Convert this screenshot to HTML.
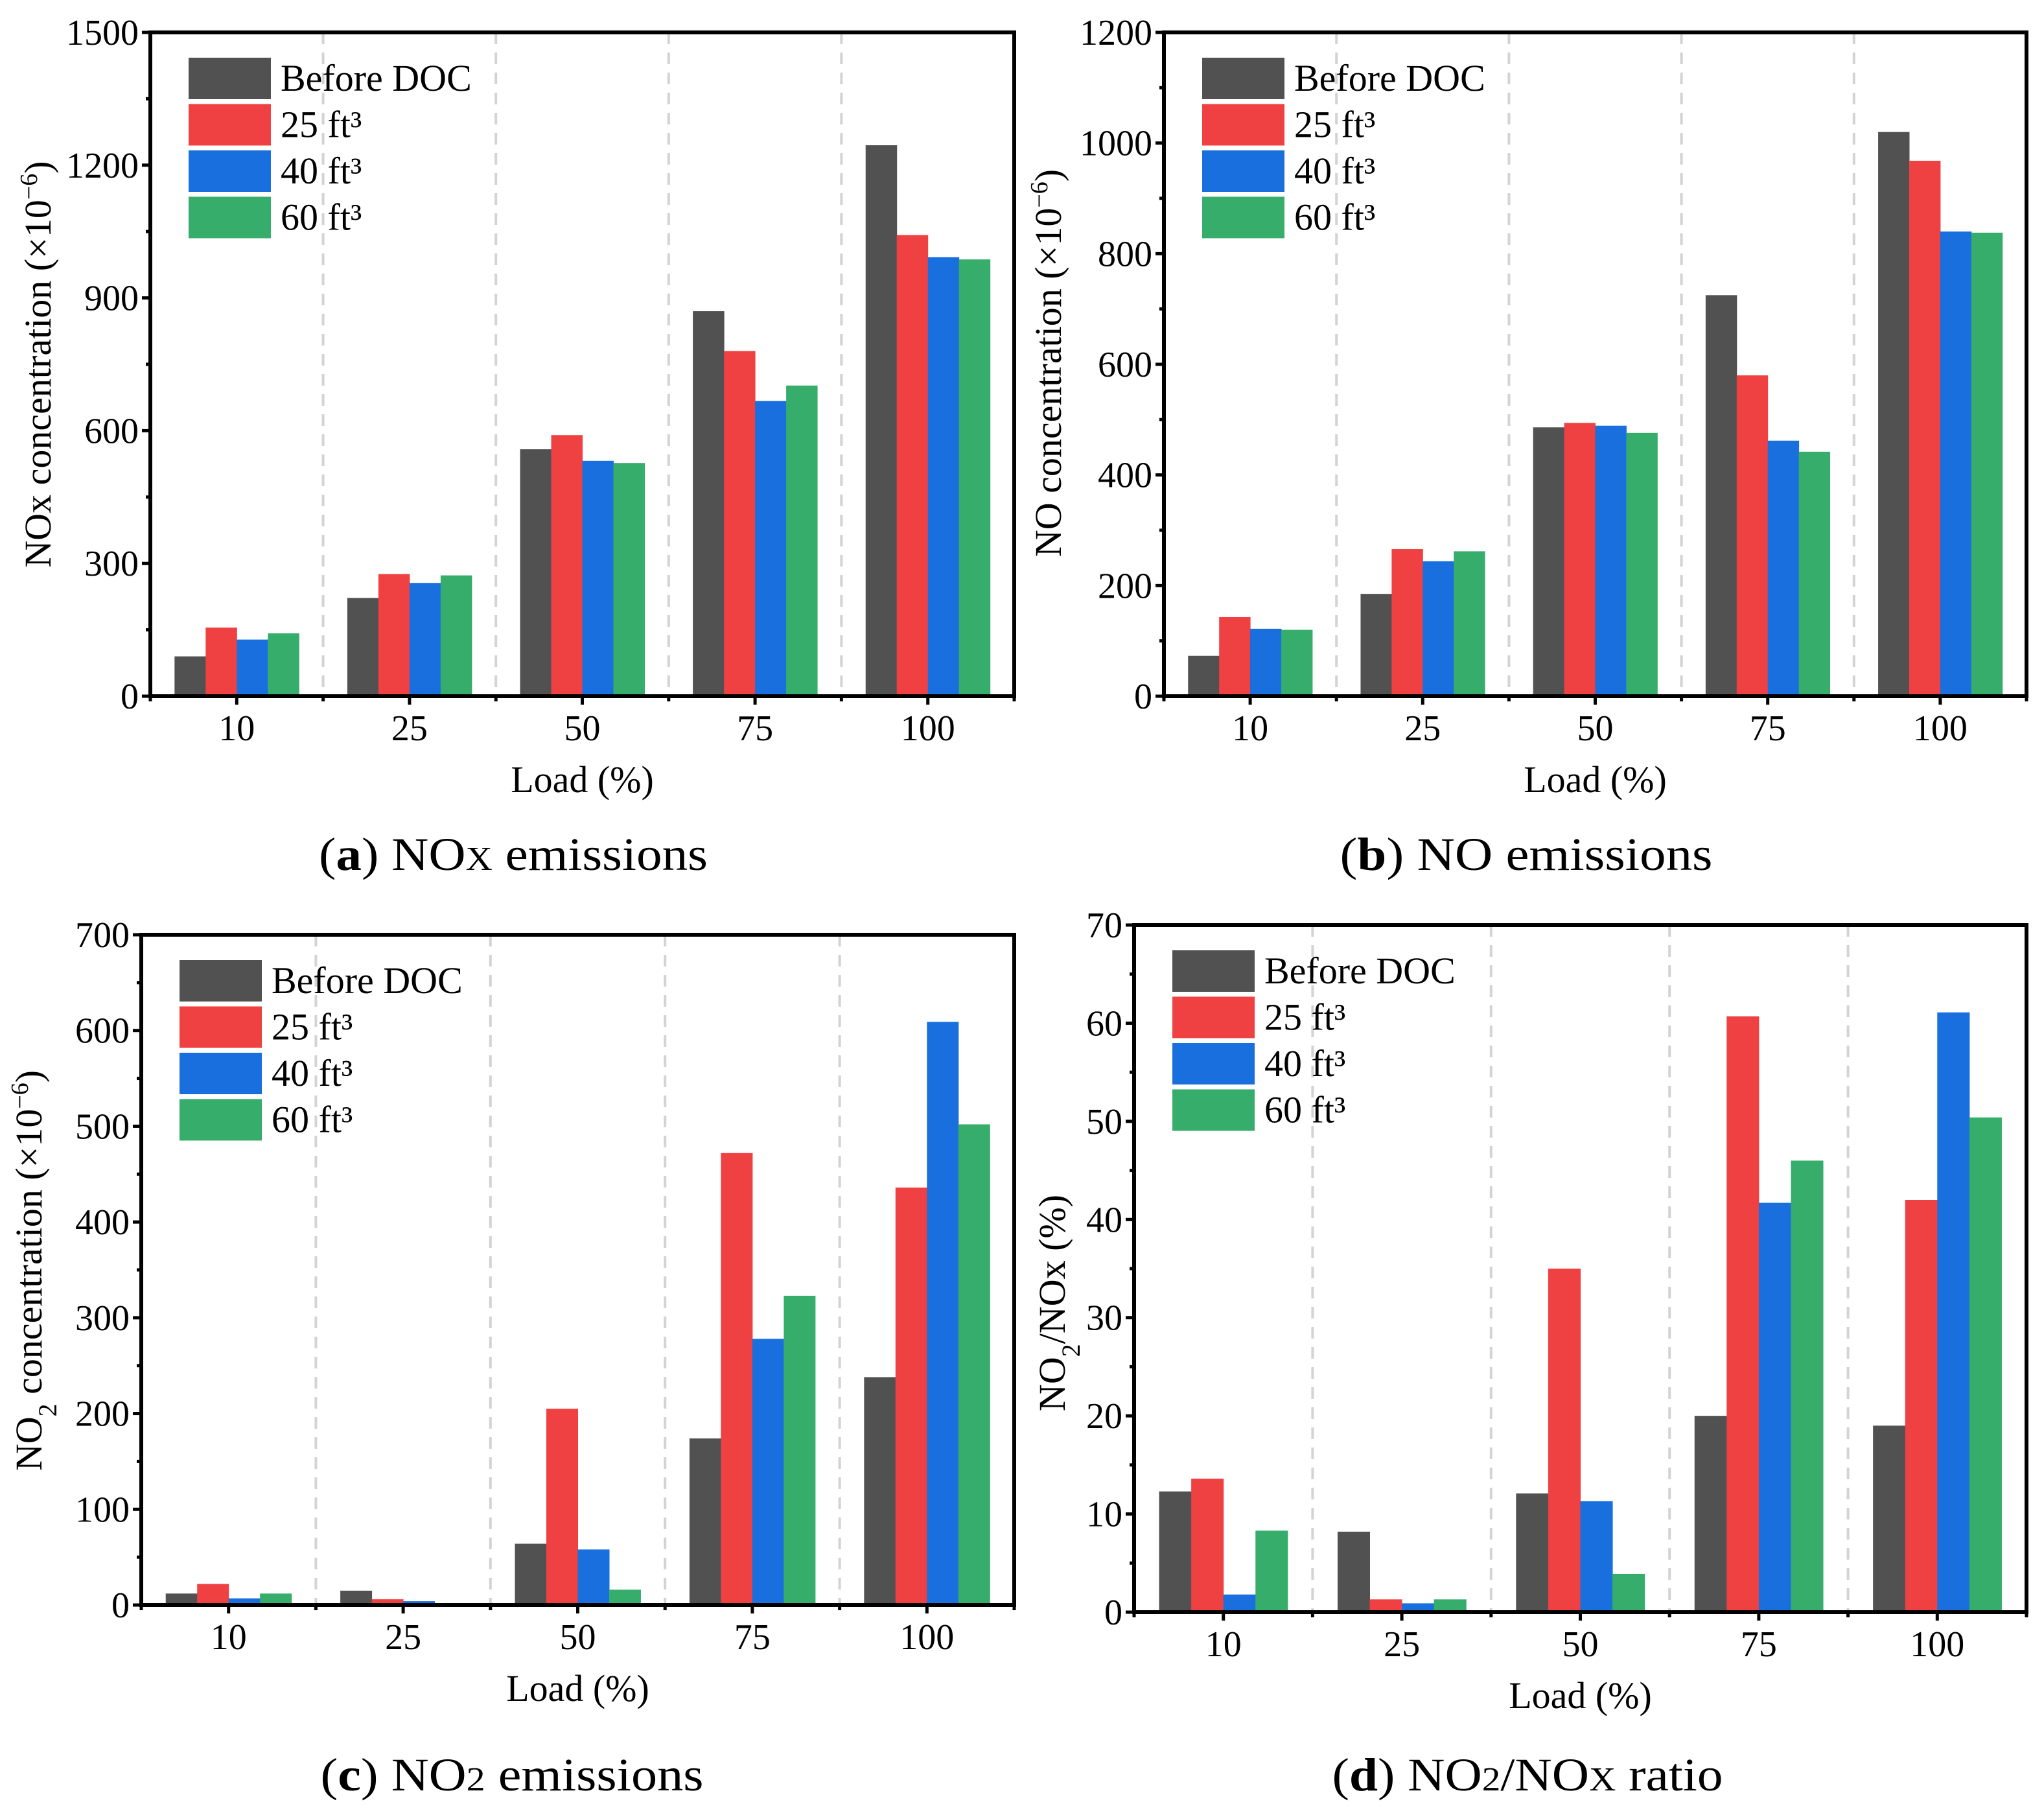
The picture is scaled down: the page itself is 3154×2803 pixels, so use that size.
<!DOCTYPE html>
<html>
<head>
<meta charset="utf-8">
<style>
html,body{margin:0;padding:0;background:#fff;}
svg{display:block;font-family:"Liberation Serif",serif;}
svg text{font-family:"Liberation Serif","DejaVu Serif",serif;}
</style>
</head>
<body>
<svg id="fig" width="3154" height="2803" viewBox="0 0 3154 2803" xmlns="http://www.w3.org/2000/svg" font-family="Liberation Serif, serif">
<rect x="0" y="0" width="3154" height="2803" fill="#fff"/>
</svg>
<script>
const categories = ["10", "25", "50", "75", "100"];
const seriesNames = ["Before DOC", "25 ft³", "40 ft³", "60 ft³"];
// Panel a: NOx concentration
const a_before = [90, 222, 558, 870, 1245];
const a_25 = [155, 276, 590, 780, 1042];
const a_40 = [128, 256, 532, 667, 992];
const a_60 = [142, 273, 527, 702, 987];
const a_ticks = [0, 300, 600, 900, 1200, 1500];
// Panel b: NO concentration
const b_before = [73, 185, 486, 725, 1020];
const b_25 = [143, 266, 494, 580, 968];
const b_40 = [122, 244, 489, 462, 840];
const b_60 = [120, 262, 476, 442, 838];
const b_ticks = [0, 200, 400, 600, 800, 1000, 1200];
// Panel c: NO2 concentration
const c_before = [12, 15, 64, 174, 238];
const c_25 = [22, 6, 205, 472, 436];
const c_40 = [7, 4, 58, 278, 609];
const c_60 = [12, 2, 16, 323, 502];
const c_ticks = [0, 100, 200, 300, 400, 500, 600, 700];
// Panel d: NO2/NOx ratio
const d_before = [12.3, 8.2, 12.1, 20.0, 19.0];
const d_25 = [13.6, 1.3, 35.0, 60.7, 42.0];
const d_40 = [1.8, 0.9, 11.3, 41.7, 61.1];
const d_60 = [8.3, 1.3, 3.9, 46.0, 50.4];
const d_ticks = [0, 10, 20, 30, 40, 50, 60, 70];

const colors = ["#515151", "#EF4142", "#1A6FDF", "#37AD6B"];
const NS = "http://www.w3.org/2000/svg";
const svg = document.getElementById("fig");
const FF = '"Liberation Serif", "DejaVu Serif", serif';

function mk(tag, attrs, parent) {
  const e = document.createElementNS(NS, tag);
  for (const k in attrs) e.setAttribute(k, attrs[k]);
  if (tag === "text") e.setAttribute("font-family", FF);
  (parent || svg).appendChild(e);
  return e;
}

function panel(cfg) {
  const g = mk("g", {});
  
  
  const L = cfg.L, R = cfg.R, T = cfg.T, B = cfg.B;
  const ymax = cfg.ticks[cfg.ticks.length - 1];
  const yS = v => B - v / ymax * (B - T);
  const cw = (R - L) / categories.length;
  const xC = i => L + cw * (i + 0.5);
  const bw = cw * 0.18;

  for (let i = 1; i < categories.length; i++) {
    const ln = mk("line", {x1: L + cw * i, x2: L + cw * i, y1: T, y2: B, stroke: "#d3d3d3", "stroke-width": 4, "stroke-dasharray": "18,13"}, g);
    
    
  }
  cfg.series.forEach((arr, s) => {
    arr.forEach((v, i) => {
      const x = xC(i) - 2 * bw + s * bw;
      const r = mk("rect", {x: x, y: yS(v), width: bw + 0.5, height: B - yS(v), fill: colors[s]}, g);
      
      
    });
  });
  const step = cfg.ticks[1] - cfg.ticks[0];
  cfg.ticks.forEach((t, k) => {
    const y = yS(t);
    mk("line", {x1: L - 13, x2: L, y1: y, y2: y, stroke: "#000", "stroke-width": 5}, g);
    const tx = mk("text", {x: L - 18, y: y + 19, "text-anchor": "end", "font-size": 56}, g);
    tx.textContent = t;
    
    
    if (k < cfg.ticks.length - 1) {
      const ym = yS(t + step / 2);
      mk("line", {x1: L - 7, x2: L, y1: ym, y2: ym, stroke: "#000", "stroke-width": 5}, g);
    }
  });
  for (let i = 0; i <= categories.length; i++) {
    mk("line", {x1: L + cw * i, x2: L + cw * i, y1: B, y2: B + 8, stroke: "#000", "stroke-width": 5}, g);
  }
  categories.forEach((c, i) => {
    mk("line", {x1: xC(i), x2: xC(i), y1: B, y2: B + 13, stroke: "#000", "stroke-width": 5}, g);
    const tx = mk("text", {x: xC(i), y: B + 68, "text-anchor": "middle", "font-size": 56}, g);
    tx.textContent = c;
    
    
  });
  const fr = mk("rect", {x: L, y: T, width: R - L, height: B - T, fill: "none", stroke: "#000", "stroke-width": 6}, g);
  
  
  const xt = mk("text", {x: (L + R) / 2, y: B + 148, "text-anchor": "middle", "font-size": 58}, g);
  xt.textContent = "Load (%)";
  
  
  const yt = mk("text", {x: 0, y: 0, "text-anchor": "middle", "font-size": 58, transform: "translate(" + cfg.ytx + "," + cfg.yty + ") rotate(-90)"}, g);
  yt.innerHTML = cfg.ytitle;
  
  
  const lg = mk("g", {}, g);
  
  
  seriesNames.forEach((n, s) => {
    const y0 = T + 39 + s * 71.5;
    const sw = mk("rect", {x: L + 59, y: y0, width: 127, height: 64, fill: colors[s]}, lg);
    
    
    const tx = mk("text", {x: L + 201, y: y0 + 51, "font-size": 58}, lg);
    tx.textContent = n;
    
    
  });
  const cp = mk("text", {x: cfg.cx, y: cfg.cy, "text-anchor": "middle", "font-size": 72, textLength: cfg.cw, lengthAdjust: "spacingAndGlyphs"}, g);
  cp.innerHTML = cfg.caption;
  
  
}

const sup = '<tspan baseline-shift="super" font-size="38">−6</tspan>';
panel({id: "a", L: 232, R: 1565, T: 50, B: 1074, ticks: a_ticks, series: [a_before, a_25, a_40, a_60],
  ytitle: 'NOx concentration (×10' + sup + ')', ytx: 78, yty: 562,
  caption: '(<tspan font-weight="bold">a</tspan>) NO<tspan font-size="52">X</tspan> emissions', cx: 792, cy: 1342, cw: 600});
panel({id: "b", L: 1796, R: 3127, T: 50, B: 1074, ticks: b_ticks, series: [b_before, b_25, b_40, b_60],
  ytitle: 'NO concentration (×10' + sup + ')', ytx: 1637, yty: 560,
  caption: '(<tspan font-weight="bold">b</tspan>) NO emissions', cx: 2355, cy: 1342, cw: 575});
panel({id: "c", L: 218, R: 1565, T: 1442, B: 2476, ticks: c_ticks, series: [c_before, c_25, c_40, c_60],
  ytitle: 'NO<tspan baseline-shift="sub" font-size="40">2</tspan> concentration (×10' + sup + ')', ytx: 64, yty: 1960,
  caption: '(<tspan font-weight="bold">c</tspan>) NO<tspan font-size="52">2</tspan> emissions', cx: 790, cy: 2762, cw: 591});
panel({id: "d", L: 1750, R: 3127, T: 1427, B: 2487, ticks: d_ticks, series: [d_before, d_25, d_40, d_60],
  ytitle: 'NO<tspan baseline-shift="sub" font-size="40">2</tspan>/NOx (%)', ytx: 1643, yty: 2010,
  caption: '(<tspan font-weight="bold">d</tspan>) NO<tspan font-size="52">2</tspan>/NO<tspan font-size="52">X</tspan> ratio', cx: 2357, cy: 2762, cw: 603});
</script>
</body>
</html>
